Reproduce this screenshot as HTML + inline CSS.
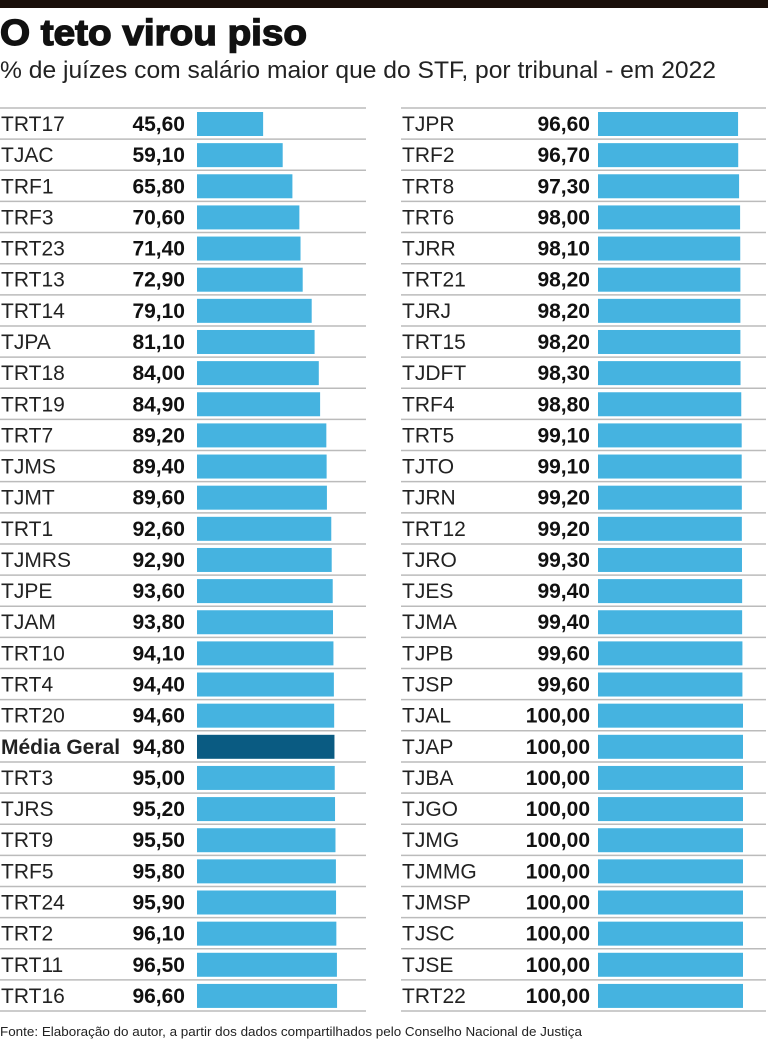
<!DOCTYPE html>
<html><head><meta charset="utf-8"><style>
body{margin:0;width:768px;height:1041px;background:#fff;overflow:hidden;font-family:"Liberation Sans Narrow","Liberation Sans",sans-serif}
</style></head><body>
<svg id="c" width="768" height="1041" xmlns="http://www.w3.org/2000/svg">
<rect x="0" y="0" width="768" height="8" fill="#1a0f0a"/>
<text x="0" y="45" font-family="Liberation Sans" font-weight="900" font-size="36" fill="#111" stroke="#111" stroke-width="1.4" textLength="307" lengthAdjust="spacingAndGlyphs">O teto virou piso</text>
<text x="0" y="78" font-family="Liberation Sans" font-size="24" fill="#222" textLength="716" lengthAdjust="spacingAndGlyphs">% de juízes com salário maior que do STF, por tribunal - em 2022</text>
<text x="0" y="1036" font-size="13" fill="#222" textLength="582" lengthAdjust="spacingAndGlyphs">Fonte: Elaboração do autor, a partir dos dados compartilhados pelo Conselho Nacional de Justiça</text>
</svg>
<script>
const leftNames=["TRT17","TJAC","TRF1","TRF3","TRT23","TRT13","TRT14","TJPA","TRT18","TRT19","TRT7","TJMS","TJMT","TRT1","TJMRS","TJPE","TJAM","TRT10","TRT4","TRT20","Média Geral","TRT3","TJRS","TRT9","TRF5","TRT24","TRT2","TRT11","TRT16"];
const leftValues=[45.6,59.1,65.8,70.6,71.4,72.9,79.1,81.1,84.0,84.9,89.2,89.4,89.6,92.6,92.9,93.6,93.8,94.1,94.4,94.6,94.8,95.0,95.2,95.5,95.8,95.9,96.1,96.5,96.6];
const rightNames=["TJPR","TRF2","TRT8","TRT6","TJRR","TRT21","TJRJ","TRT15","TJDFT","TRF4","TRT5","TJTO","TJRN","TRT12","TJRO","TJES","TJMA","TJPB","TJSP","TJAL","TJAP","TJBA","TJGO","TJMG","TJMMG","TJMSP","TJSC","TJSE","TRT22"];
const rightValues=[96.6,96.7,97.3,98.0,98.1,98.2,98.2,98.2,98.3,98.8,99.1,99.1,99.2,99.2,99.3,99.4,99.4,99.6,99.6,100,100,100,100,100,100,100,100,100,100];
const svg=document.getElementById('c');const NS='http://www.w3.org/2000/svg';
const top0=108,pitch=31.14,scale=1.45;
function el(t,a){const e=document.createElementNS(NS,t);for(const k in a)e.setAttribute(k,a[k]);svg.appendChild(e);return e;}
function col(names,vals,x0,valX,barX,lineX2){
  for(let i=0;i<names.length;i++){
    const y=top0+i*pitch;
    const ln=el('line',{x1:x0,x2:lineX2,y1:y,y2:y,stroke:'#bbb','stroke-width':1.5});
    
    
    const avg=names[i]==='Média Geral';
    const lb=el('text',{x:x0+1,y:y+23,'font-size':21,fill:'#222','font-weight':avg?'bold':'normal'});lb.textContent=names[i];
    
    
    const vt=el('text',{x:valX,y:y+23,'font-size':21,'font-weight':'bold',fill:'#111','text-anchor':'end'});vt.textContent=vals[i].toFixed(2).replace('.',',');
    
    
    const b=el('rect',{x:barX,y:y+4,width:vals[i]*scale,height:24,fill:avg?'#0a5b82':'#45b3e0'});
    
    
  }
  const yb=top0+names.length*pitch;
  const l=el('line',{x1:x0,x2:lineX2,y1:yb,y2:yb,stroke:'#bbb','stroke-width':1.5});
  
  
}
col(leftNames,leftValues,0,185,197,366);
col(rightNames,rightValues,401,590,598,766);
</script>
</body></html>
